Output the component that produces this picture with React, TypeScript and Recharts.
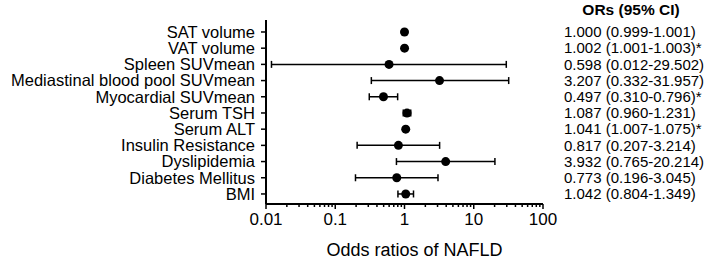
import * as React from "react";
import {
  ScatterChart,
  Scatter,
  XAxis,
  YAxis,
  ErrorBar,
} from "recharts";

const categories = [
  "SAT volume",
  "VAT volume",
  "Spleen SUVmean",
  "Mediastinal blood pool SUVmean",
  "Myocardial SUVmean",
  "Serum TSH",
  "Serum ALT",
  "Insulin Resistance",
  "Dyslipidemia",
  "Diabetes Mellitus",
  "BMI",
];

const oddsRatios = [1.0, 1.002, 0.598, 3.207, 0.497, 1.087, 1.041, 0.817, 3.932, 0.773, 1.042];
const ciLower = [0.999, 1.001, 0.012, 0.332, 0.31, 0.96, 1.007, 0.207, 0.765, 0.196, 0.804];
const ciUpper = [1.001, 1.003, 29.502, 31.957, 0.796, 1.231, 1.075, 3.214, 20.214, 3.045, 1.349];

const orLabels = [
  "1.000 (0.999-1.001)",
  "1.002 (1.001-1.003)*",
  "0.598 (0.012-29.502)",
  "3.207 (0.332-31.957)",
  "0.497 (0.310-0.796)*",
  "1.087 (0.960-1.231)",
  "1.041 (1.007-1.075)*",
  "0.817 (0.207-3.214)",
  "3.932 (0.765-20.214)",
  "0.773 (0.196-3.045)",
  "1.042 (0.804-1.349)",
];

const rowTicks = [1, 2, 3, 4, 5, 6, 7, 8, 9, 10, 11];

const majorTicks = [0.01, 0.1, 1, 10, 100];
const majorLabels = ["0.01", "0.1", "1", "10", "100"];
const allTicks = [
  0.01, 0.02, 0.03, 0.04, 0.05, 0.06, 0.07, 0.08, 0.09,
  0.1, 0.2, 0.3, 0.4, 0.5, 0.6, 0.7, 0.8, 0.9,
  1, 2, 3, 4, 5, 6, 7, 8, 9,
  10, 20, 30, 40, 50, 60, 70, 80, 90,
  100,
];

const FONT = '"Liberation Sans", Arial, Helvetica, sans-serif';

const data = categories.map((name, i) => ({
  name,
  x: oddsRatios[i],
  y: i + 1,
  err: [oddsRatios[i] - ciLower[i], ciUpper[i] - oddsRatios[i]],
}));

function XTick(props: any) {
  const { x, y, payload } = props;
  const idx = majorTicks.indexOf(payload.value);
  const major = idx >= 0;
  return (
    <g>
      <line x1={x} y1={y} x2={x} y2={y + (major ? 5 : 3)} stroke="#000" strokeWidth={1.5} />
      {major && (
        <text
          x={x}
          y={y + 9}
          dy="0.71em"
          textAnchor="middle"
          fontSize={17}
          fontFamily={FONT}
          fill="#000"
        >
          {majorLabels[idx]}
        </text>
      )}
    </g>
  );
}

function OrTick(props: any) {
  const { x, y, payload } = props;
  const label = orLabels[Math.round(payload.value) - 1];
  if (!label) return null;
  return (
    <text
      x={x + 21}
      y={y}
      dy="0.35em"
      textAnchor="start"
      fontSize={15}
      fontFamily={FONT}
      fill="#000"
    >
      {label}
    </text>
  );
}

const Dot = (props: any) => <circle cx={props.cx} cy={props.cy} r={4.5} fill="#000" />;
const NoDot = () => null;

export default function App() {
  return (
    <div style={{ position: "absolute", left: 0, top: 0, fontFamily: FONT }}>
      <ScatterChart
        width={709}
        height={259}
        margin={{ top: 20, right: 0, bottom: 0, left: 0 }}
      >
        <XAxis
          type="number"
          dataKey="x"
          scale="log"
          domain={[0.01, 100]}
          ticks={allTicks}
          interval={0}
          height={55}
          tickSize={0}
          tickMargin={0}
          tickLine={false}
          tick={<XTick />}
          axisLine={{ stroke: "#000", strokeWidth: 2 }}
          label={{
            value: "Odds ratios of NAFLD",
            position: "insideBottom",
            offset: 3,
            dx: 10,
            style: { fontSize: 18, fontFamily: FONT, fill: "#000" },
          }}
        />
        <YAxis
          yAxisId="left"
          type="number"
          dataKey="y"
          domain={[0.26, 11.62]}
          reversed
          ticks={rowTicks}
          interval={0}
          width={266}
          tickSize={5}
          tickMargin={6}
          tickLine={{ stroke: "#000", strokeWidth: 1.5 }}
          axisLine={{ stroke: "#000", strokeWidth: 2 }}
          tickFormatter={(v: number) => categories[v - 1]}
          tick={{ fontSize: 16.5, fontFamily: FONT, fill: "#000" }}
        />
        <YAxis
          yAxisId="right"
          orientation="right"
          type="number"
          dataKey="y"
          domain={[0.26, 11.62]}
          reversed
          ticks={rowTicks}
          interval={0}
          width={166}
          tickSize={0}
          tickMargin={0}
          tickLine={false}
          axisLine={false}
          tick={<OrTick />}
          label={{
            value: "ORs (95% CI)",
            position: "top",
            offset: 5,
            dx: 5,
            style: { fontSize: 15.5, fontWeight: "bold", fontFamily: FONT, fill: "#000" },
          }}
        />
        <Scatter
          yAxisId="left"
          data={data}
          shape={Dot}
          isAnimationActive={false}
        >
          <ErrorBar
            dataKey="err"
            direction="x"
            width={3.5}
            stroke="#000"
            strokeWidth={1.5}
          />
        </Scatter>
        <Scatter
          yAxisId="right"
          data={data}
          shape={NoDot}
          legendType="none"
          isAnimationActive={false}
        />
      </ScatterChart>
    </div>
  );
}
